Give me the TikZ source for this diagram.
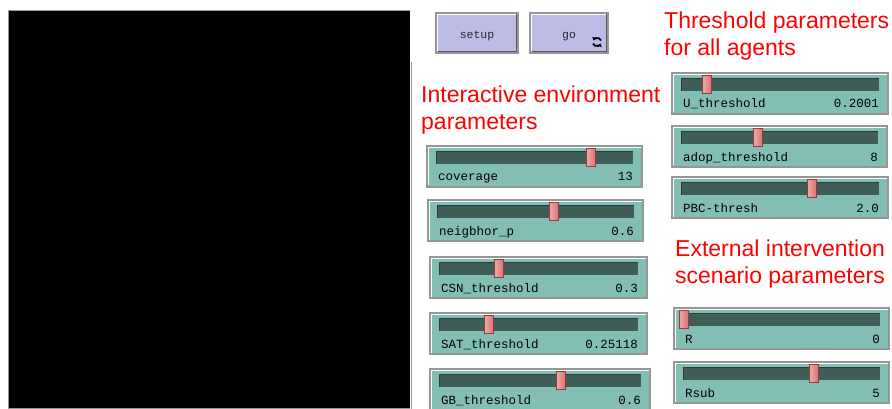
\documentclass[tikz,border=0pt]{standalone}
\usepackage{fontspec}
\setmainfont{Liberation Sans}
\newfontfamily\monofont{Liberation Mono}
\usetikzlibrary{arrows.meta}

\definecolor{btnfill}{RGB}{188,188,230}
\definecolor{slbody}{RGB}{130,190,180}
\definecolor{sltrack}{RGB}{64,94,88}
\definecolor{sltrackedge}{RGB}{40,60,56}
\definecolor{knobfill}{RGB}{222,112,112}
\definecolor{knobedge}{RGB}{150,60,60}
\definecolor{frame}{RGB}{150,150,150}
\definecolor{titlered}{RGB}{255,0,0}

\tikzset{
  title/.style={text=titlered, font=\fontsize{23}{27}\selectfont, align=left, inner sep=0pt},
  sltext/.style={font=\monofont\fontsize{12.5}{12.5}\selectfont, text=black, inner sep=0pt},
  btntext/.style={font=\monofont\fontsize{11.5}{12}\selectfont, text=black!85, inner sep=0pt},
  outerframe/.style={draw=frame, line width=1.2pt},
}

% slider: name, x1, y1, x2, y2, knob centre x, label, value
\newcommand\nlslider[8]{%
  \fill[slbody] (#2,#3) rectangle (#4,#5);
  \draw[outerframe] (#2,#3) rectangle (#4,#5);
  \draw[white, line width=0.8pt] ({#2+1.5},{#5-1.5}) -- ({#2+1.5},{#3+1.5}) -- ({#4-1.5},{#3+1.5});
  \fill[sltrack] ({#2+9},{#3+5}) rectangle ({#4-9},{#3+18});
  \draw[sltrackedge, line width=1pt] ({#2+9},{#3+18}) -- ({#2+9},{#3+5.5}) -- ({#4-9},{#3+5.5});
  \node[draw=knobedge, line width=0.6pt, fill=knobfill, minimum width=9pt, minimum height=18pt,
        inner sep=0pt, left color=knobfill!60!white, right color=knobfill] (#1-knob) at (#6,{#3+11.5}) {};
  \node[sltext, anchor=base west] (#1-label) at ({#2+11},{#5-6}) {#7};
  \node[sltext, anchor=base east] (#1-value) at ({#4-9},{#5-6}) {#8};
}

% button: name, x1, y1, x2, y2, label
\newcommand\nlbutton[6]{%
  \fill[btnfill] (#2,#3) rectangle (#4,#5);
  \draw[frame, line width=1.2pt] (#2,#3) rectangle (#4,#5);
  \draw[white, line width=0.8pt] ({#2+1.5},{#5-1.5}) -- ({#2+1.5},{#3+1.5}) -- ({#4-1.5},{#3+1.5});
  \draw[gray!70!black, line width=0.8pt] ({#2+1.5},{#5-1.5}) -- ({#4-1.5},{#5-1.5}) -- ({#4-1.5},{#3+1.5});
  \node[btntext, anchor=base] (#1-label) at ({(#2+#4)/2},{(#3+#5)/2+6}) {#6};
}

\begin{document}
\begin{tikzpicture}[x=1pt, y=-1pt]
  \useasboundingbox (0,0) rectangle (892,409);
  \fill[white] (0,0) rectangle (892,409);

  % world view
  \fill[black] (9,11) rectangle (410,408);
  \draw[frame, line width=1pt] (8.5,409) -- (8.5,10.5) -- (410,10.5);
  \draw[frame, line width=1pt] (9,408.5) -- (410,408.5);
  \draw[frame, line width=1pt] (411.5,62) -- (411.5,409);

  % buttons
  \nlbutton{setup}{436}{13}{518}{53}{setup}
  \nlbutton{go}{530}{13}{608}{53}{go}
  \coordinate (go-icon) at (597,42);
  \draw[black, line width=1.8pt, -{Triangle[length=3pt,width=4.5pt]}]
    ([shift={(4,-1.5)}]go-icon) arc[start angle=-20, end angle=-160, radius=4];
  \draw[black, line width=1.8pt, -{Triangle[length=3pt,width=4.5pt]}]
    ([shift={(-4,1.5)}]go-icon) arc[start angle=160, end angle=20, radius=4];

  % group titles (anchored at the baseline of their second line)
  \node[title, anchor=base west] (t-threshold) at (664,56) {Threshold parameters\\for all agents};
  \node[title, anchor=base west] (t-env) at (421,130) {Interactive environment\\parameters};
  \node[title, anchor=base west] (t-ext) at (675,283) {External intervention\\scenario parameters};

  % environment sliders
  \nlslider{coverage}{427}{146}{642}{187}{591}{coverage}{13}
  \nlslider{neigh}{428}{200}{643}{241}{554}{neigbhor\_p}{0.6}
  \nlslider{csn}{430}{257}{647}{298}{499}{CSN\_threshold}{0.3}
  \nlslider{sat}{430}{313}{647}{354}{489}{SAT\_threshold}{0.25118}
  \nlslider{gb}{430}{369}{650}{410}{561}{GB\_threshold}{0.6}

  % agent threshold sliders
  \nlslider{u}{672}{73}{888}{114}{707}{U\_threshold}{0.2001}
  \nlslider{adop}{672}{126}{887}{167}{758}{adop\_threshold}{8}
  \nlslider{pbc}{672}{177}{888}{218}{812}{PBC-thresh}{2.0}

  % intervention sliders
  \nlslider{r}{674}{308}{889}{349}{684}{R}{0}
  \nlslider{rsub}{674}{362}{889}{403}{814}{Rsub}{5}
\end{tikzpicture}
\end{document}
